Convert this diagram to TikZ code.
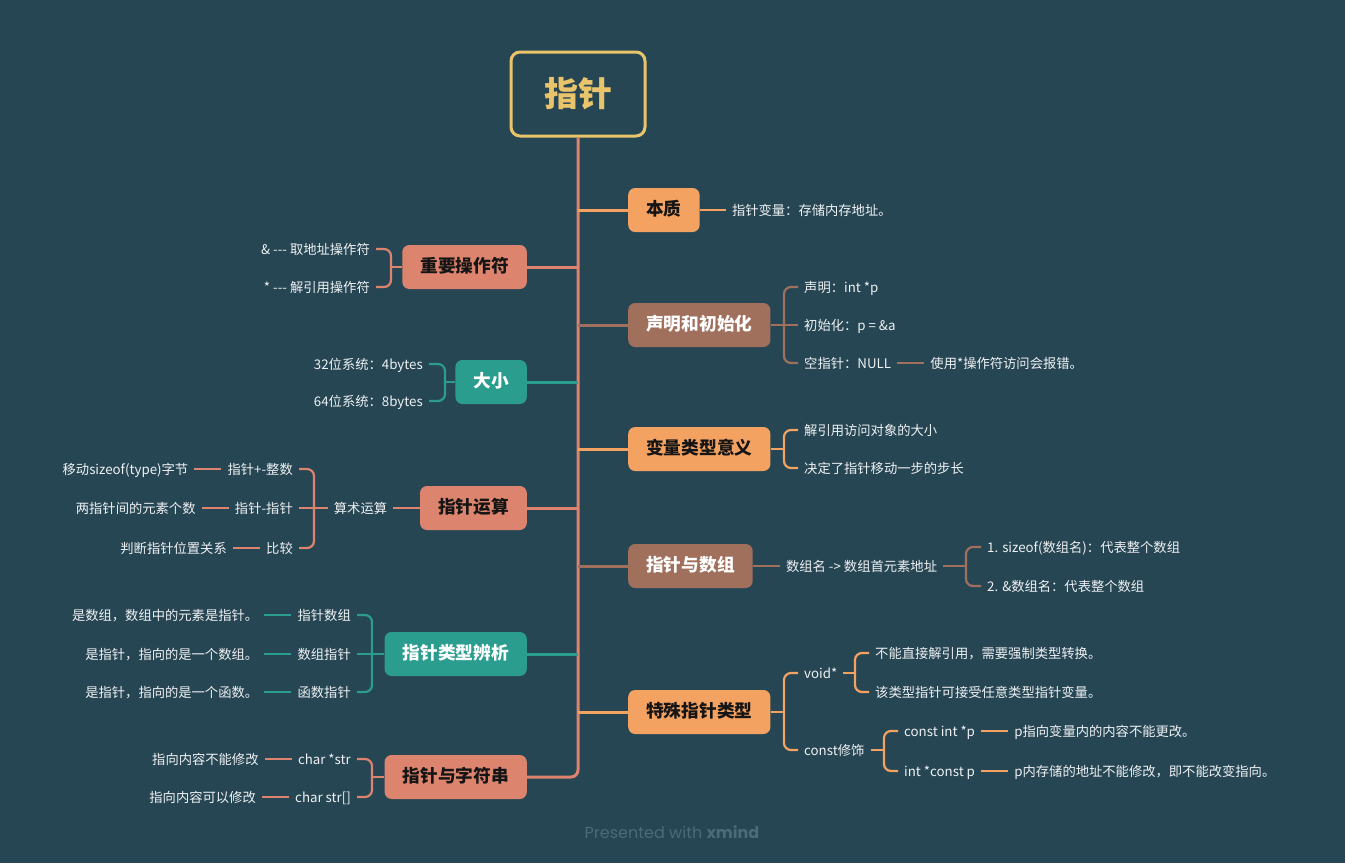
\documentclass[tikz,border=0pt]{standalone}
\usepackage{fontspec}
\setmainfont{Noto Sans CJK SC}
\newfontfamily\footfont{Poppins}
\usetikzlibrary{positioning}

\definecolor{bgc}{HTML}{274654}
\definecolor{cRoot}{HTML}{E9C46A}
\definecolor{cOrange}{HTML}{F4A261}
\definecolor{cSalmon}{HTML}{DC846E}
\definecolor{cTeal}{HTML}{2A9D8F}
\definecolor{cBrown}{HTML}{A1705D}
\definecolor{cDark}{HTML}{151515}
\definecolor{cLeaf}{HTML}{EEF1F3}
\definecolor{cFoot}{HTML}{4B6B79}

\tikzstyle{rootbox} = [draw=cRoot, line width=3pt, rounded corners=9pt, minimum width=134pt, minimum height=84pt, text=cRoot, font=\fontsize{34}{40}\selectfont\bfseries]
\tikzstyle{mainbox} = [rounded corners=7pt, minimum height=44pt, inner xsep=18pt, text height=1.1em, text depth=0.05em, font=\fontsize{17.7}{20}\selectfont\bfseries]
\tikzstyle{leaf} = [text=cLeaf, inner xsep=6pt, inner ysep=2pt, text height=1.1em, text depth=0.05em, font=\fontsize{13.3}{15}\selectfont]
\tikzstyle{branch} = [line width=3pt]
\tikzstyle{twig} = [line width=2.2pt, rounded corners=7pt]

\begin{document}
\begin{tikzpicture}[x=1pt, y=-1pt]
        \fill[bgc] (0,0) rectangle (1345,863);
        \useasboundingbox (0,0) rectangle (1345,863);

        \node[rootbox] (root) at (578,94) {指针};

        % right branches
        \node[mainbox, fill=cOrange, text=cDark, anchor=west] (ess) at (628,210) {本质};
        \node[mainbox, fill=cBrown, text=white, anchor=west] (decl) at (628,325) {声明和初始化};
        \node[mainbox, fill=cOrange, text=cDark, anchor=west] (vtype) at (628,449) {变量类型意义};
        \node[mainbox, fill=cBrown, text=white, anchor=west] (arr) at (628,566) {指针与数组};
        \node[mainbox, fill=cOrange, text=cDark, anchor=west] (spec) at (628,712) {特殊指针类型};

        % left branches
        \node[mainbox, fill=cSalmon, text=cDark, anchor=east] (ops) at (527,267) {重要操作符};
        \node[mainbox, fill=cTeal, text=white, anchor=east] (size) at (527,382) {大小};
        \node[mainbox, fill=cSalmon, text=cDark, anchor=east] (calc) at (527,508) {指针运算};
        \node[mainbox, fill=cTeal, text=white, anchor=east] (types) at (527,654) {指针类型辨析};
        \node[mainbox, fill=cSalmon, text=cDark, anchor=east] (str) at (527,777) {指针与字符串};

        % trunk and branch lines
        \draw[branch, cSalmon, rounded corners=7pt] (root.south) |- (str.east);
        \draw[branch, cOrange] (root.south |- ess.west) -- (ess.west);
        \draw[branch, cBrown] (root.south |- decl.west) -- (decl.west);
        \draw[branch, cOrange] (root.south |- vtype.west) -- (vtype.west);
        \draw[branch, cBrown] (root.south |- arr.west) -- (arr.west);
        \draw[branch, cOrange] (root.south |- spec.west) -- (spec.west);
        \draw[branch, cSalmon] (root.south |- ops.east) -- (ops.east);
        \draw[branch, cTeal] (root.south |- size.east) -- (size.east);
        \draw[branch, cSalmon] (root.south |- calc.east) -- (calc.east);
        \draw[branch, cTeal] (root.south |- types.east) -- (types.east);

        % 本质
        \node[leaf, right=26pt of ess] (ess1) {指针变量：存储内存地址。};
        \draw[twig, cOrange] (ess.east) -- (ess1.west);

        % 声明和初始化
        \node[leaf, anchor=west] (decl1) at (798,287) {声明：int *p};
        \node[leaf, anchor=west] (decl2) at (798,325) {初始化：p = \&a};
        \node[leaf, anchor=west] (decl3) at (798,363) {空指针：NULL};
        \node[leaf, right=27pt of decl3] (decl3a) {使用*操作符访问会报错。};
        \coordinate (declS) at (784,325);
        \draw[twig, cBrown] (decl.east) -- (declS);
        \draw[twig, cBrown] (decl1.west) -| (declS) |- (decl3.west);
        \draw[twig, cBrown] (declS) -- (decl2.west);
        \draw[twig, cBrown] (decl3.east) -- (decl3a.west);

        % 变量类型意义
        \node[leaf, anchor=west] (vt1) at (798,430) {解引用访问对象的大小};
        \node[leaf, anchor=west] (vt2) at (798,468) {决定了指针移动一步的步长};
        \coordinate (vtS) at (784,449);
        \draw[twig, cOrange] (vtype.east) -- (vtS);
        \draw[twig, cOrange] (vt1.west) -| (vtS) |- (vt2.west);

        % 指针与数组
        \node[leaf, right=27pt of arr] (arr1) {数组名 -> 数组首元素地址};
        \node[leaf, anchor=west] (arr1a) at (981,547) {1. sizeof(数组名)：代表整个数组};
        \node[leaf, anchor=west] (arr1b) at (981,586) {2. \&数组名：代表整个数组};
        \coordinate (arrS) at (966,566);
        \draw[twig, cBrown] (arr.east) -- (arr1.west);
        \draw[twig, cBrown] (arr1.east) -- (arrS);
        \draw[twig, cBrown] (arr1a.west) -| (arrS) |- (arr1b.west);

        % 特殊指针类型
        \node[leaf, anchor=west] (vd) at (798,673) {void*};
        \node[leaf, anchor=west] (cst) at (798,750) {const修饰};
        \coordinate (specS) at (784,712);
        \draw[twig, cOrange] (spec.east) -- (specS);
        \draw[twig, cOrange] (vd.west) -| (specS) |- (cst.west);

        \node[leaf, anchor=west] (vd1) at (869,653) {不能直接解引用，需要强制类型转换。};
        \node[leaf, anchor=west] (vd2) at (869,692) {该类型指针可接受任意类型指针变量。};
        \coordinate (vdS) at (855,673);
        \draw[twig, cOrange] (vd.east) -- (vdS);
        \draw[twig, cOrange] (vd1.west) -| (vdS) |- (vd2.west);

        \node[leaf, anchor=west] (cst1) at (898,731) {const int *p};
        \node[leaf, anchor=west] (cst2) at (898,771) {int *const p};
        \node[leaf, right=27pt of cst1] (cst1a) {p指向变量内的内容不能更改。};
        \node[leaf, right=27pt of cst2] (cst2a) {p内存储的地址不能修改，即不能改变指向。};
        \coordinate (cstS) at (884,750);
        \draw[twig, cOrange] (cst.east) -- (cstS);
        \draw[twig, cOrange] (cst1.west) -| (cstS) |- (cst2.west);
        \draw[twig, cOrange] (cst1.east) -- (cst1a.west);
        \draw[twig, cOrange] (cst2.east) -- (cst2a.west);

        % 重要操作符
        \node[leaf, anchor=east] (ops1) at (376,249) {\& -{}-{}- 取地址操作符};
        \node[leaf, anchor=east] (ops2) at (376,287) {* -{}-{}- 解引用操作符};
        \coordinate (opsS) at (391,267);
        \draw[twig, cSalmon] (ops.west) -- (opsS);
        \draw[twig, cSalmon] (ops1.east) -| (opsS) |- (ops2.east);

        % 大小
        \node[leaf, anchor=east] (sz1) at (429,364) {32位系统：4bytes};
        \node[leaf, anchor=east] (sz2) at (429,401) {64位系统：8bytes};
        \coordinate (szS) at (445,382);
        \draw[twig, cTeal] (size.west) -- (szS);
        \draw[twig, cTeal] (sz1.east) -| (szS) |- (sz2.east);

        % 指针运算
        \node[leaf, left=26.5pt of calc] (ari) {算术运算};
        \node[leaf, anchor=east] (ari1) at (299,469) {指针+-整数};
        \node[leaf, anchor=east] (ari2) at (299,508) {指针-指针};
        \node[leaf, anchor=east] (ari3) at (299,548) {比较};
        \node[leaf, left=27pt of ari1] (ari1a) {移动sizeof(type)字节};
        \node[leaf, left=27pt of ari2] (ari2a) {两指针间的元素个数};
        \node[leaf, left=27pt of ari3] (ari3a) {判断指针位置关系};
        \coordinate (ariS) at (314,508);
        \draw[twig, cSalmon] (calc.west) -- (ari.east);
        \draw[twig, cSalmon] (ari.west) -- (ariS);
        \draw[twig, cSalmon] (ari1.east) -| (ariS) |- (ari3.east);
        \draw[twig, cSalmon] (ariS) -- (ari2.east);
        \draw[twig, cSalmon] (ari1.west) -- (ari1a.east);
        \draw[twig, cSalmon] (ari2.west) -- (ari2a.east);
        \draw[twig, cSalmon] (ari3.west) -- (ari3a.east);

        % 指针类型辨析
        \node[leaf, anchor=east] (ty1) at (357,615) {指针数组};
        \node[leaf, anchor=east] (ty2) at (357,654) {数组指针};
        \node[leaf, anchor=east] (ty3) at (357,692) {函数指针};
        \node[leaf, left=27pt of ty1] (ty1a) {是数组，数组中的元素是指针。};
        \node[leaf, left=27pt of ty2] (ty2a) {是指针，指向的是一个数组。};
        \node[leaf, left=27pt of ty3] (ty3a) {是指针，指向的是一个函数。};
        \coordinate (tyS) at (372,654);
        \draw[twig, cTeal] (types.west) -- (tyS);
        \draw[twig, cTeal] (ty1.east) -| (tyS) |- (ty3.east);
        \draw[twig, cTeal] (tyS) -- (ty2.east);
        \draw[twig, cTeal] (ty1.west) -- (ty1a.east);
        \draw[twig, cTeal] (ty2.west) -- (ty2a.east);
        \draw[twig, cTeal] (ty3.west) -- (ty3a.east);

        % 指针与字符串
        \node[leaf, anchor=east] (st1) at (357,759) {char *str};
        \node[leaf, anchor=east] (st2) at (357,797) {char str[]};
        \node[leaf, left=27pt of st1] (st1a) {指向内容不能修改};
        \node[leaf, left=27pt of st2] (st2a) {指向内容可以修改};
        \coordinate (stS) at (372,777);
        \draw[twig, cSalmon] (str.west) -- (stS);
        \draw[twig, cSalmon] (st1.east) -| (stS) |- (st2.east);
        \draw[twig, cSalmon] (st1.west) -- (st1a.east);
        \draw[twig, cSalmon] (st2.west) -- (st2a.east);

        \node[text=cFoot, font=\footfont\fontsize{16}{18}\selectfont] (foot) at (672,832) {Presented with \textbf{xmind}};
\end{tikzpicture}
\end{document}
